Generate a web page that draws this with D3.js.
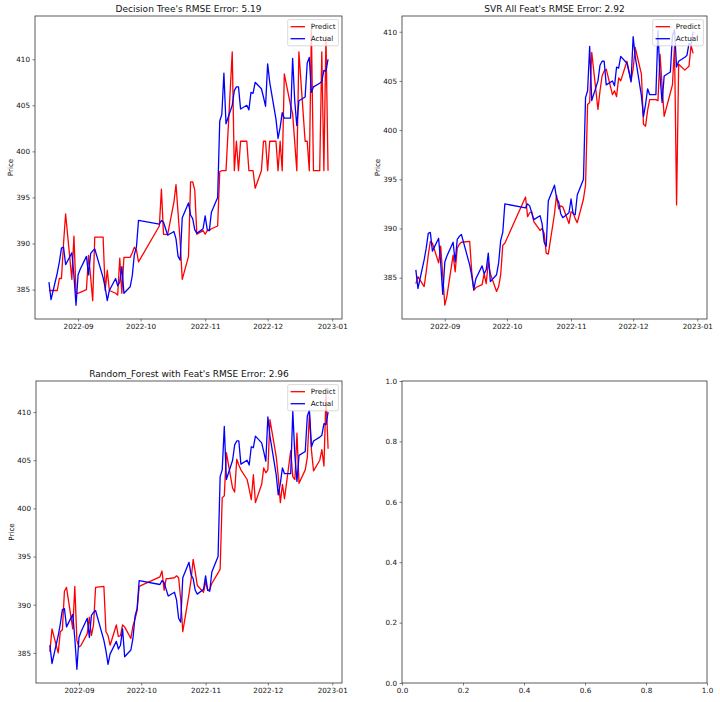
<!DOCTYPE html>
<html>
<head>
<meta charset="utf-8">
<script src="https://cdn.jsdelivr.net/npm/d3@7/dist/d3.min.js"></script>
<style>
  body { margin: 0; background: #fff; }
  svg { display: block; }
</style>
</head>
<body>
<div id="chart"></div>
<script>
// trading days in the test window
const dates = [
  "2022-08-18","2022-08-19","2022-08-22","2022-08-23","2022-08-24","2022-08-25","2022-08-26","2022-08-29","2022-08-30","2022-08-31",
  "2022-09-01","2022-09-02","2022-09-05","2022-09-06","2022-09-07","2022-09-08","2022-09-09","2022-09-13","2022-09-14","2022-09-15","2022-09-16",
  "2022-09-19","2022-09-20","2022-09-21","2022-09-22","2022-09-23","2022-09-26","2022-09-27","2022-09-28","2022-09-29","2022-09-30",
  "2022-10-10","2022-10-11","2022-10-12","2022-10-13","2022-10-14","2022-10-17","2022-10-18","2022-10-19","2022-10-20","2022-10-21",
  "2022-10-24","2022-10-25","2022-10-26","2022-10-27","2022-10-28","2022-10-31",
  "2022-11-01","2022-11-02","2022-11-03","2022-11-04","2022-11-07","2022-11-08","2022-11-09","2022-11-10","2022-11-11","2022-11-14","2022-11-15",
  "2022-11-16","2022-11-17","2022-11-18","2022-11-21","2022-11-22","2022-11-23","2022-11-24","2022-11-25","2022-11-28","2022-11-29","2022-11-30",
  "2022-12-01","2022-12-02","2022-12-05","2022-12-06","2022-12-07","2022-12-08","2022-12-09","2022-12-12","2022-12-13","2022-12-14","2022-12-15",
  "2022-12-16","2022-12-19","2022-12-20","2022-12-21","2022-12-22","2022-12-23","2022-12-26","2022-12-27","2022-12-28","2022-12-29","2022-12-30"
];

const actual = [
  385.8, 383.9, 386.8, 388.0, 389.5, 389.6, 387.7, 389.0, 386.5, 383.3,
  386.6, 387.2, 388.6, 386.6, 388.9, 389.2, 389.4, 386.3, 385.2, 383.8, 384.9, 386.2, 385.4, 385.8, 387.5, 384.6, 385.3, 386.5, 388.8, 389.6, 392.5,
  392.1, 392.5, 392.3, 391.6, 390.9, 391.3, 390.5, 388.6, 388.2, 392.8, 394.4, 393.1, 392.7, 391.5, 391.1, 391.6,
  393.0, 391.5, 391.4, 393.4, 395.0, 403.3, 404.0, 408.5, 403.0, 405.0, 406.6, 407.0, 407.0, 404.6, 405.0, 404.5, 406.4, 406.3, 407.5, 406.8, 405.9, 404.9,
  409.5, 407.5, 403.5, 401.4, 402.6, 404.2, 403.6, 403.6, 410.1, 405.5, 402.8, 405.5, 405.9, 409.6, 410.2, 406.4, 407.0, 407.4, 407.6, 408.8, 408.7, 410.0
];

const treePredict = [
  384.9, 384.9, 384.9, 386.2, 386.2, 390.0, 393.2, 386.1, 390.8, 384.6,
  384.6, 384.7, 385.0, 388.7, 386.4, 383.8, 390.7, 390.7, 384.9, 387.1, 384.9, 384.6, 384.4, 388.4, 384.6, 388.5, 388.5, 389.0, 389.6, 389.3, 388.0,
  391.9, 395.9, 391.0, 391.0, 391.0, 394.5, 396.4, 393.3, 390.2, 386.1, 388.6, 396.7, 396.7, 395.8, 391.0, 391.4,
  391.0, 391.4, 391.4, 391.6, 391.9, 397.8, 397.9, 397.9, 397.9, 410.8, 397.9, 401.1, 397.9, 401.1, 401.1, 397.9, 397.9, 397.9, 396.0, 397.9, 401.1, 401.1,
  397.9, 401.1, 401.1, 397.9, 401.1, 397.9, 408.4, 405.0, 404.1, 401.0, 397.9, 410.8, 401.1, 401.1, 397.9, 413.2, 397.9, 397.9, 410.8, 397.9, 412.5, 397.9
];

const svrPredict = [
  384.4, 385.1, 384.1, 385.6, 387.3, 388.7, 388.5, 386.5, 388.2, 385.2,
  382.2, 383.1, 387.3, 385.6, 388.0, 388.4, 388.6, 388.7, 385.6, 383.7, 384.0, 384.3, 385.4, 384.4, 386.6, 385.4, 383.6, 384.1, 385.3, 388.3, 388.5,
  393.2, 391.2, 391.6, 391.7, 390.7, 389.8, 390.0, 389.5, 387.5, 387.4, 391.5, 393.4, 392.0, 392.3, 392.2, 390.5,
  391.7, 391.6, 391.0, 390.6, 393.0, 394.4, 402.6, 402.8, 407.9, 402.1, 404.0, 405.5, 406.0, 406.2, 403.6, 404.0, 403.4, 405.3, 405.0, 407.0, 406.0, 405.0,
  406.2, 408.4, 405.7, 400.6, 400.4, 402.0, 403.1, 403.1, 403.0, 407.7, 404.5, 401.4, 403.8, 404.6, 408.5, 392.4, 406.7, 406.1, 406.3, 406.5, 408.6, 407.8
];

const forestPredict = [
  385.1, 387.5, 385.0, 387.2, 387.4, 391.4, 391.8, 387.5, 391.9, 386.3,
  385.6, 385.8, 387.0, 388.7, 386.8, 387.9, 391.8, 391.9, 387.2, 386.8, 385.8, 387.9, 386.7, 386.8, 387.9, 387.7, 386.5, 387.8, 388.5, 389.4, 391.9,
  392.9, 393.5, 391.5, 392.7, 392.7, 392.8, 393.0, 392.8, 390.6, 387.2, 391.1, 392.6, 394.7, 393.4, 392.0, 391.3,
  392.4, 391.5, 391.6, 392.2, 393.3, 393.7, 401.1, 401.3, 405.8, 402.1, 401.7, 405.1, 404.5, 404.0, 403.0, 402.0, 400.9, 403.5, 400.6, 402.5, 404.2, 403.7,
  404.0, 409.2, 405.4, 403.3, 400.6, 402.5, 401.0, 406.0, 403.3, 403.0, 407.8, 402.6, 404.0, 405.3, 409.8, 406.0, 403.9, 405.0, 406.1, 404.4, 411.8, 406.2
];

const panelTitles = [
  "Decision Tree's RMSE Error: 5.19",
  "SVR All Feat's RMSE Error: 2.92",
  "Random_Forest with Feat's RMSE Error: 2.96"
];
const legendLabels = ["Predict", "Actual"];
const yLabel = "Price";

const width = 720, height = 702;
const pt = 0.72;                       // pixels per point in this figure
const font = "DejaVu Sans, sans-serif";
const tickFont = 10 * pt, titleFont = 9;
const lineW = 1.3;

// axes boxes: [left, right, top, bottom]
const frames = [
  [35, 342, 16, 319],
  [402, 707, 16, 319],
  [36, 342, 381, 683],
  [402, 707, 381, 683]
];

const parse = d3.timeParse("%Y-%m-%d");
const days = dates.map(parse);

const svg = d3.select("#chart").append("svg")
  .attr("width", width)
  .attr("height", height)
  .style("background", "#fff");

// matplotlib style 5% margin around the data
function padded(extent) {
  const span = extent[1] - extent[0];
  return [extent[0] - span * 0.05, extent[1] + span * 0.05];
}

function styleAxis(g) {
  g.select(".domain").remove();
  g.attr("font-size", tickFont).attr("font-family", font);
  g.selectAll(".tick line").attr("stroke", "#222").attr("stroke-width", 0.8 * pt);
  g.selectAll(".tick text").attr("fill", "#111");
}

function drawFrame(f) {
  svg.append("rect")
    .attr("x", f[0]).attr("y", f[2])
    .attr("width", f[1] - f[0]).attr("height", f[3] - f[2])
    .attr("fill", "none")
    .attr("stroke", "#333")
    .attr("stroke-width", 0.8);
}

function drawPanel(f, title, predict) {
  const tExt = d3.extent(days).map(d => +d);
  const x = d3.scaleTime()
    .domain(padded(tExt).map(v => new Date(v)))
    .range([f[0], f[1]]);
  const y = d3.scaleLinear()
    .domain(padded(d3.extent(actual.concat(predict))))
    .range([f[3], f[2]]);

  const line = d3.line()
    .x((d, i) => x(days[i]))
    .y(d => y(d));

  svg.append("path")
    .datum(predict)
    .attr("d", line)
    .attr("fill", "none")
    .attr("stroke", "#ff0000")
    .attr("stroke-width", lineW)
    .attr("stroke-linejoin", "round");

  svg.append("path")
    .datum(actual)
    .attr("d", line)
    .attr("fill", "none")
    .attr("stroke", "#0000ff")
    .attr("stroke-width", lineW)
    .attr("stroke-linejoin", "round");

  svg.append("g")
    .attr("transform", `translate(0,${f[3]})`)
    .call(d3.axisBottom(x)
      .ticks(d3.timeMonth.every(1))
      .tickFormat(d3.timeFormat("%Y-%m"))
      .tickSize(3.5 * pt)
      .tickPadding(3.5 * pt))
    .call(styleAxis);

  svg.append("g")
    .attr("transform", `translate(${f[0]},0)`)
    .call(d3.axisLeft(y)
      .ticks(6)
      .tickFormat(d3.format("d"))
      .tickSize(3.5 * pt)
      .tickPadding(3.5 * pt))
    .call(styleAxis);

  drawFrame(f);

  svg.append("text")
    .attr("x", (f[0] + f[1]) / 2)
    .attr("y", f[2] - 6 * pt + 0.5)
    .attr("text-anchor", "middle")
    .attr("font-family", font)
    .attr("font-size", titleFont)
    .attr("fill", "#111")
    .text(title);

  svg.append("text")
    .attr("transform", `translate(${f[0] - 22.5},${(f[2] + f[3]) / 2})rotate(-90)`)
    .attr("text-anchor", "middle")
    .attr("font-family", font)
    .attr("font-size", tickFont)
    .attr("fill", "#111")
    .text(yLabel);

  // legend, upper right
  const pad = 0.4 * tickFont, handle = 2 * tickFont, gap = 0.8 * tickFont;
  const rowH = 1.17 * tickFont, spacing = 0.5 * tickFont;
  const legend = svg.append("g");
  const box = legend.append("rect");
  const colors = ["#ff0000", "#0000ff"];
  const labels = legend.selectAll("text")
    .data(legendLabels)
    .enter().append("text")
    .attr("font-family", font)
    .attr("font-size", tickFont)
    .attr("fill", "#111")
    .attr("dy", "0.35em")
    .text(d => d);
  const textW = d3.max(labels.nodes(), n => n.getComputedTextLength());
  const boxW = pad * 2 + handle + gap + textW;
  const boxH = pad * 2 + rowH * 2 + spacing;
  const bx = f[1] - 0.5 * tickFont - boxW;
  const by = f[2] + 0.5 * tickFont;
  box.attr("x", bx).attr("y", by)
    .attr("width", boxW).attr("height", boxH)
    .attr("rx", 0.2 * tickFont)
    .attr("fill", "#fff").attr("fill-opacity", 0.8)
    .attr("stroke", "#cccccc").attr("stroke-width", pt);
  labels
    .attr("x", bx + pad + handle + gap)
    .attr("y", (d, i) => by + pad + rowH / 2 + i * (rowH + spacing));
  legend.selectAll("line")
    .data(legendLabels)
    .enter().append("line")
    .attr("x1", bx + pad).attr("x2", bx + pad + handle)
    .attr("y1", (d, i) => by + pad + rowH / 2 + i * (rowH + spacing))
    .attr("y2", (d, i) => by + pad + rowH / 2 + i * (rowH + spacing))
    .attr("stroke", (d, i) => colors[i])
    .attr("stroke-width", lineW);
}

function drawEmpty(f) {
  const x = d3.scaleLinear().domain([0, 1]).range([f[0], f[1]]);
  const y = d3.scaleLinear().domain([0, 1]).range([f[3], f[2]]);
  svg.append("g")
    .attr("transform", `translate(0,${f[3]})`)
    .call(d3.axisBottom(x).ticks(5).tickFormat(d3.format(".1f"))
      .tickSize(3.5 * pt).tickPadding(3.5 * pt))
    .call(styleAxis);
  svg.append("g")
    .attr("transform", `translate(${f[0]},0)`)
    .call(d3.axisLeft(y).ticks(5).tickFormat(d3.format(".1f"))
      .tickSize(3.5 * pt).tickPadding(3.5 * pt))
    .call(styleAxis);
  drawFrame(f);
}

drawPanel(frames[0], panelTitles[0], treePredict);
drawPanel(frames[1], panelTitles[1], svrPredict);
drawPanel(frames[2], panelTitles[2], forestPredict);
drawEmpty(frames[3]);
</script>
</body>
</html>
